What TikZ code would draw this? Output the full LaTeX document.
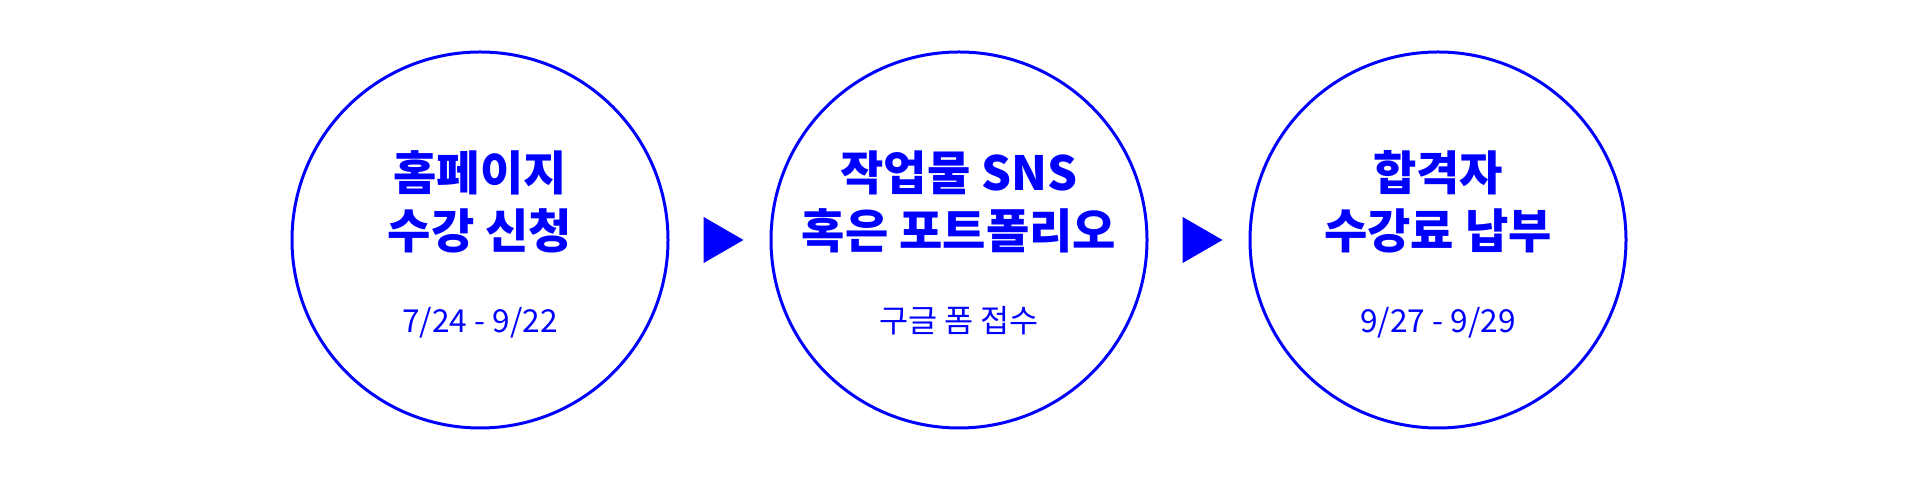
\documentclass[tikz,border=0pt]{standalone}
\usepackage{fontspec}
\usepackage{tikz}
\usetikzlibrary{positioning}
\usetikzlibrary{shapes.geometric}
\newfontfamily\krfont{Noto Sans CJK KR}
\definecolor{stageblue}{RGB}{0,0,255}

\begin{document}
\begin{tikzpicture}[
		stage/.style = {draw = stageblue, line width = 0.3mm, circle, minimum size = 3.76cm, inner sep = 0pt},
		title/.style = {text = stageblue, align = center, font = \krfont\bfseries\fontsize{13.4pt}{16.4pt}\selectfont},
		period/.style = {text = stageblue, font = \krfont\fontsize{9pt}{10pt}\selectfont},
		arrowhead/.style = {fill = stageblue, isosceles triangle, isosceles triangle apex angle = 60, minimum height = 4.0mm, inner sep = 0pt, outer sep = 0pt}]
		\useasboundingbox (0,0) rectangle (19.2,4.8);
		\node[stage] at (4.8,2.4) (c1) {};
		\node[stage, right = 1cm of c1] (c2) {};
		\node[stage, right = 1cm of c2] (c3) {};
		\node[arrowhead, right = 3.4mm of c1] (t1) {};
		\node[arrowhead, right = 3.4mm of c2] (t2) {};

		\node[title, yshift = 3.8mm] at (c1) (h1)
		{홈페이지\\
				수강 신청};
		\node[title, yshift = 3.8mm] at (c2) (h2)
		{작업물 SNS\\
				혹은 포트폴리오};
		\node[title, yshift = 3.8mm] at (c3) (h3)
		{합격자\\
				수강료 납부};

		\node[period, anchor = base] at ([yshift = -9.3mm]c1.center) (d1) {7/24 - 9/22};
		\node[period, anchor = base] at ([yshift = -9.3mm]c2.center) (d2) {구글 폼 접수};
		\node[period, anchor = base] at ([yshift = -9.3mm]c3.center) (d3) {9/27 - 9/29};
	\end{tikzpicture}
\end{document}
